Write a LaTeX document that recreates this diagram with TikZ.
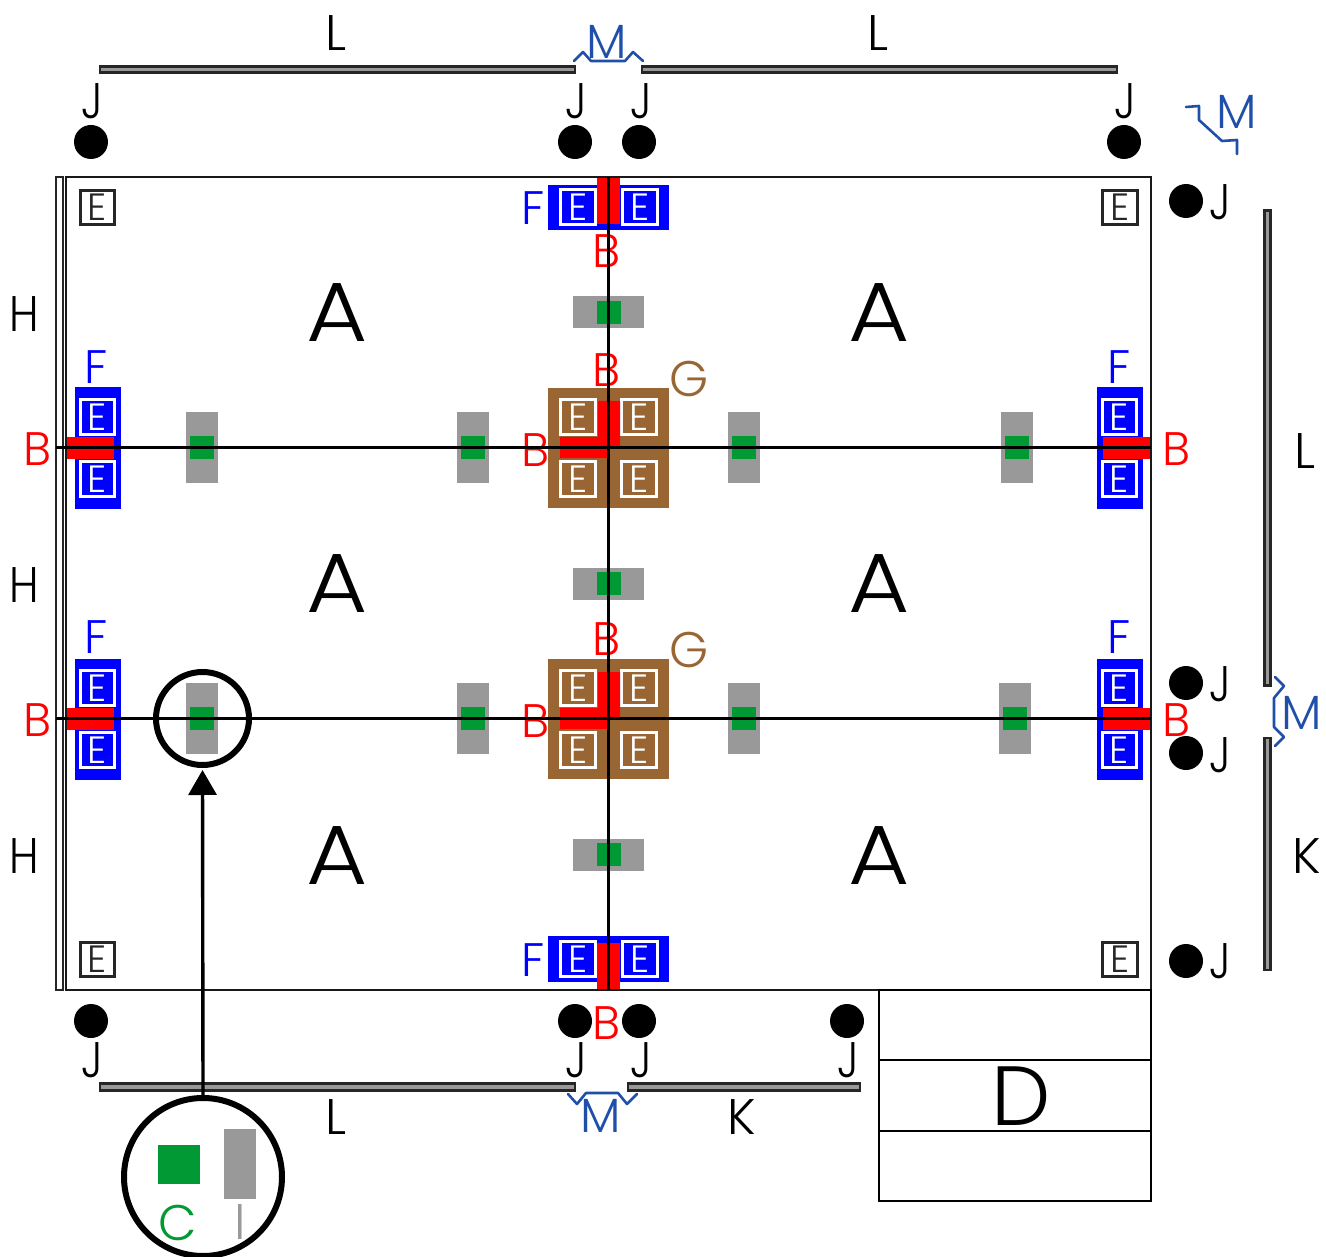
\documentclass[tikz,border=0pt]{standalone}
\usepackage{fontspec}
\setmainfont{Poppins}[UprightFont=* Light]
\usetikzlibrary{arrows.meta}
\definecolor{cblue}{HTML}{0000FF}
\definecolor{cred}{HTML}{FF0000}
\definecolor{cbrown}{HTML}{996633}
\definecolor{cgreen}{HTML}{009933}
\definecolor{cgrey}{HTML}{999999}
\definecolor{cm}{HTML}{1F4FA8}
\newcommand{\fsz}[1]{\fontsize{#1}{#1}\selectfont}
\tikzset{
  x=1pt,y=-1pt,
  box/.style={rectangle,inner sep=0pt,outer sep=0pt,draw=none},
  txt/.style={inner sep=0pt,outer sep=0pt,font=\fsz{50}},
  bigA/.style={txt,font=\fsz{84}},
  red lab/.style={txt,text=cred,font=\fsz{47}},
  blue lab/.style={txt,text=cblue,font=\fsz{47}},
  brown lab/.style={txt,text=cbrown,font=\fsz{50}},
  m lab/.style={txt,text=cm,font=\fsz{48}},
  mline/.style={draw=cm,line width=2.6pt,line join=round,line cap=round},
  ebox/.style={box,draw=#1,text=#1,line width=2.6pt,minimum width=34.5pt,minimum height=34.5pt,font=\fsz{38}},
  bar/.style={box,fill=cgrey,draw=black!85,line width=2.6pt},
  dot/.style={circle,fill=black,inner sep=0pt,outer sep=0pt,minimum size=34pt},
  axis/.style={draw=black,line width=2.5pt},
  redbar/.style={box,fill=cred},
  bluebar/.style={box,fill=cblue},
  brownbox/.style={box,fill=cbrown,minimum width=121pt,minimum height=120pt},
  greypadv/.style={box,fill=cgrey,minimum width=32pt,minimum height=71pt},
  greypadh/.style={box,fill=cgrey,minimum width=71pt,minimum height=32pt},
  greensq/.style={box,fill=cgreen,minimum width=24pt,minimum height=23pt},
  ring/.style={circle,draw=black,line width=6pt,inner sep=0pt},
  tablerow/.style={box,draw=black,line width=2pt,minimum width=272pt},
}
\begin{document}
\begin{tikzpicture}
\useasboundingbox (0,0) rectangle (1326,1257);
% blue mounts
\node[bluebar,minimum width=121pt,minimum height=45pt] (bt) at (608.5,207.5) {};
\node[bluebar,minimum width=121pt,minimum height=46pt] (bb) at (608.5,959) {};
\foreach \n/\x/\y in {bl1/97.5/448,bl2/97.5/719,br1/1119.5/448,br2/1119.5/719}
  \node[bluebar,minimum width=46pt,minimum height=121pt] (\n) at (\x,\y) {};
% brown mounts
\node[brownbox] (g1) at (608.5,448) {};
\node[brownbox] (g2) at (608.5,719) {};
% E boxes
\foreach \n/\x/\y in {w1/578/207,w2/640/207,w3/578/959,w4/640/959,
  w5/97.5/417,w6/97.5/479,w7/97.5/688,w8/97.5/750,
  w9/1119.5/417,w10/1119.5/479,w11/1119.5/688,w12/1119.5/750,
  w13/578/417,w14/639/417,w15/578/479,w16/639/479,
  w17/578/688,w18/639/688,w19/578/750,w20/639/750}
  \node[ebox=white] (\n) at (\x,\y) {E};
\foreach \n/\x/\y in {k1/97.5/207.5,k2/1120/207.5,k3/97.5/959.5,k4/1120/959.5}
  \node[ebox=black!85] (\n) at (\x,\y) {E};
% red
\node[redbar,minimum width=23pt,minimum height=47pt] (rt) at (608.5,200.5) {};
\node[redbar,minimum width=23pt,minimum height=47pt] (rb) at (608.5,966.5) {};
\foreach \n/\x/\y in {rl1/90/448,rl2/90/719,rr1/1127/448,rr2/1127/719}
  \node[redbar,minimum width=48pt,minimum height=22pt] (\n) at (\x,\y) {};
\foreach \d in {0,271}
  \fill[cred,yshift=-\d pt] (598,401) -- (620,401) -- (620,458) -- (560,458) -- (560,437) -- (598,437) -- cycle;
\foreach \d in {0,271}
  \fill[cbrown,yshift=-\d pt] (608,449) rectangle (620.5,459);
% grey pads and green squares
\foreach \n/\x/\y in {a/202/447.5,b/473/447.5,c/744/447.5,d/1017/447.5,e/473/718.5,f/744/718.5,g/1015/718.5,h/202/718.5}{
  \node[greypadv] (pv\n) at (\x,\y) {};
  \node[greensq] (gv\n) at (\x,\y) {};
}
\foreach \n/\y in {a/312.5,b/583.5,c/854.5}{
  \node[greypadh] (ph\n) at (608.5,\y) {};
  \node[greensq] (gh\n) at (608.5,\y) {};
}
% labels under axes
\foreach \n/\x/\y in {b1/607/251,b2/607/370,b3/38/449,b4/536/450,b5/1177/449,b6/607/639,b7/38/720,b8/536/721,b9/1177/720,b10/607/1023}
  \node[red lab] (\n) at (\x,\y) {B};
% outline, left bar
\node[bar,fill=white,minimum width=7pt,minimum height=813pt] (lbar) at (59.5,583.5) {};
\node[box,draw=black!90,line width=2.5pt,minimum width=1085pt,minimum height=813pt] (main) at (608.5,583.5) {};
% table
\node[tablerow,minimum height=70pt] (t1) at (1015,1025) {};
\node[tablerow,minimum height=71pt] (t2) at (1015,1095.5) {};
\node[tablerow,minimum height=70pt] (t3) at (1015,1166) {};
% axes
\coordinate (h1l) at (56,447.5);
\coordinate (h1r) at (1151,447.5);
\coordinate (h2l) at (56,718.5);
\coordinate (h2r) at (1151,718.5);
\draw[axis] (main.north) -- (main.south);
\draw[axis] (h1l) -- (h1r);
\draw[axis] (h2l) -- (h2r);
% dimension bars
\node[bar,minimum width=475pt,minimum height=6.5pt] (tb1) at (337.5,69.5) {};
\node[bar,minimum width=475pt,minimum height=6.5pt] (tb2) at (879.5,69.5) {};
\node[bar,minimum width=475pt,minimum height=6.5pt] (bb1) at (337.5,1087) {};
\node[bar,minimum width=232pt,minimum height=6.5pt] (bb2) at (744,1087) {};
\node[bar,minimum width=6.5pt,minimum height=475pt] (rb1) at (1267.5,448) {};
\node[bar,minimum width=6.5pt,minimum height=232pt] (rb2) at (1267.5,854) {};
% dots
\foreach \n/\x/\y in {d1/91/142,d2/575/142,d3/639/142,d4/1124/142,
  d5/1186/201,d6/1186/683,d7/1186/753,d8/1186/961,
  d9/91/1021,d10/575/1021,d11/639/1021,d12/847/1021}
  \node[dot] (\n) at (\x,\y) {};
% J
\foreach \n/\x/\y in {j1/92/101,j2/576/101,j3/641/101,j4/1125/101,
  j5/1220/202,j6/1220/684,j7/1220/755,j8/1220/961,
  j9/92/1060,j10/576/1060,j11/641/1060,j12/848/1060}
  \node[txt] (\n) at (\x,\y) {\scalebox{.86}[1]{J}};
% L K H A
\foreach \n/\x/\y in {l1/336/33,l2/878/33,l3/1305/451,l4/336/1117}
  \node[txt] (\n) at (\x,\y) {L};
\node[txt] (k5) at (1307,856) {K};
\node[txt] (k6) at (742,1117) {K};
\foreach \n/\y in {h1/314,h2/585,h3/856}
  \node[txt] (\n) at (24,\y) {\scalebox{.87}[1]{H}};
\foreach \n/\x/\y in {a1/337/313,a2/879/313,a3/337/584,a4/879/584,a5/337/856,a6/879/856}
  \node[bigA] (\n) at (\x,\y) {\scalebox{1.12}[1]{A}};
\foreach \n/\x/\y in {f1/533/208,f2/96/367,f3/1119/367,f4/96/637,f5/1119/637,f6/533/960}
  \node[blue lab] (\n) at (\x,\y) {F};
\node[brown lab] (gl1) at (689,379) {G};
\node[brown lab] (gl2) at (689,650) {G};
\node[bigA] (dl) at (1021,1096) {D};
% M
\node[m lab] (m1) at (607,42) {M};
\node[m lab] (m2) at (1237,112) {M};
\node[m lab] (m3) at (1302,713) {M};
\node[m lab] (m4) at (601,1116) {M};
\draw[mline] (574,61) -- (583,52) -- (591,61) -- (625,61) -- (633,52) -- (643,61);
\draw[mline] (1186,107) -- (1199,106) -- (1199,120) -- (1222,141) -- (1237,140) -- (1237,154);
\draw[mline] (1275,677) -- (1284,686) -- (1274,698) -- (1274,727) -- (1284,737) -- (1275,746);
\draw[mline] (568,1094) -- (577,1104) -- (586,1093) -- (618,1093) -- (627,1104) -- (637,1094);
% detail circle and legend
\node[ring,minimum size=93pt] (small) at (202.5,718.5) {};
\node[ring,fill=white,minimum size=158pt] (big) at (203,1177) {};
\node[box,fill=cgreen,minimum width=42pt,minimum height=39pt] (lg) at (179,1164.5) {};
\node[box,fill=cgrey,minimum width=32pt,minimum height=70pt] (lp) at (240,1164) {};
\node[txt,text=cgreen] (cl) at (178,1223) {C};
\node[txt,text=cgrey] (il) at (240,1222) {I};
\draw[line width=3.4pt,-{Triangle[width=28pt,length=25pt]},shorten >=2pt] (big.north) -- (small.south);
\end{tikzpicture}
\end{document}
